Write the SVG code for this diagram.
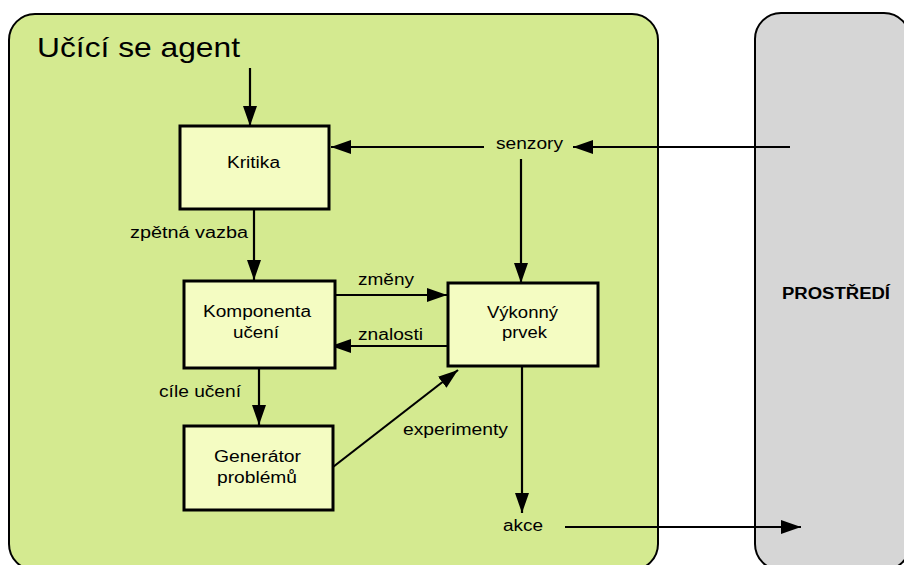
<svg xmlns="http://www.w3.org/2000/svg" width="904" height="565" viewBox="0 0 904 565">
<style>
.t{font-family:"Liberation Sans",Arial,sans-serif;font-size:16px;fill:#000}
.box{fill:#f4fcc2;stroke:#000;stroke-width:3}
.ln{stroke:#000;stroke-width:2.2;fill:none}
.a{marker-end:url(#ah)}
</style>
<defs>
<marker id="ah" markerUnits="userSpaceOnUse" markerWidth="20" markerHeight="14" refX="20" refY="7" orient="auto">
<path d="M0,0 L20,7 L0,14 z" fill="#000"/>
</marker>
</defs>
<g id="agent">
<rect x="9" y="14" width="649" height="556" rx="26" ry="26" fill="#d4ea90" stroke="#000" stroke-width="2"/>
<text class="t" x="37" y="57" style="font-size:28px" textLength="203" lengthAdjust="spacingAndGlyphs">Učící se agent</text>
</g>
<g id="prostredi">
<rect x="755" y="13" width="155" height="557" rx="26" ry="26" fill="#d6d6d6" stroke="#000" stroke-width="2"/>
<text class="t" x="782" y="299" style="font-weight:bold;font-size:16px" textLength="108" lengthAdjust="spacingAndGlyphs">PROSTŘEDÍ</text>
</g>
<g id="connectors">
<line class="ln a" x1="250" y1="68" x2="250" y2="126"/>
<line class="ln a" x1="790" y1="147" x2="573" y2="147"/>
<line class="ln a" x1="484" y1="147" x2="331" y2="147"/>
<line class="ln a" x1="521" y1="159" x2="521" y2="283"/>
<line class="ln a" x1="254" y1="209" x2="254" y2="280"/>
<line class="ln a" x1="335" y1="295" x2="447" y2="295"/>
<line class="ln a" x1="448" y1="346" x2="331" y2="346"/>
<line class="ln a" x1="259" y1="368" x2="259" y2="425"/>
<line class="ln a" x1="333" y1="467" x2="458" y2="370"/>
<line class="ln a" x1="522" y1="366" x2="522" y2="513"/>
<line class="ln a" x1="565" y1="527" x2="801" y2="527"/>
</g>
<g id="labels">
<text class="t" x="496" y="149" textLength="67" lengthAdjust="spacingAndGlyphs">senzory</text>
<text class="t" x="130" y="238" textLength="118" lengthAdjust="spacingAndGlyphs">zpětná vazba</text>
<text class="t" x="358" y="285" textLength="56" lengthAdjust="spacingAndGlyphs">změny</text>
<text class="t" x="358" y="340" textLength="65" lengthAdjust="spacingAndGlyphs">znalosti</text>
<text class="t" x="159" y="397" textLength="82" lengthAdjust="spacingAndGlyphs">cíle učení</text>
<text class="t" x="403" y="435" textLength="105" lengthAdjust="spacingAndGlyphs">experimenty</text>
<text class="t" x="503" y="531" textLength="40" lengthAdjust="spacingAndGlyphs">akce</text>
</g>
<g id="kritika">
<rect class="box" x="180" y="126" width="149" height="83"/>
<text class="t" x="227" y="168" textLength="53" lengthAdjust="spacingAndGlyphs">Kritika</text>
</g>
<g id="komponenta">
<rect class="box" x="184" y="281" width="151" height="87"/>
<text class="t" x="203" y="317" textLength="108" lengthAdjust="spacingAndGlyphs">Komponenta</text>
<text class="t" x="233" y="338" textLength="46" lengthAdjust="spacingAndGlyphs">učení</text>
</g>
<g id="vykonny">
<rect class="box" x="448" y="283" width="150" height="83"/>
<text class="t" x="487" y="318" textLength="71" lengthAdjust="spacingAndGlyphs">Výkonný</text>
<text class="t" x="502" y="338" textLength="45" lengthAdjust="spacingAndGlyphs">prvek</text>
</g>
<g id="generator">
<rect class="box" x="184" y="426" width="149" height="84"/>
<text class="t" x="214" y="462" textLength="87" lengthAdjust="spacingAndGlyphs">Generátor</text>
<text class="t" x="217" y="483" textLength="80" lengthAdjust="spacingAndGlyphs">problémů</text>
</g>
</svg>
